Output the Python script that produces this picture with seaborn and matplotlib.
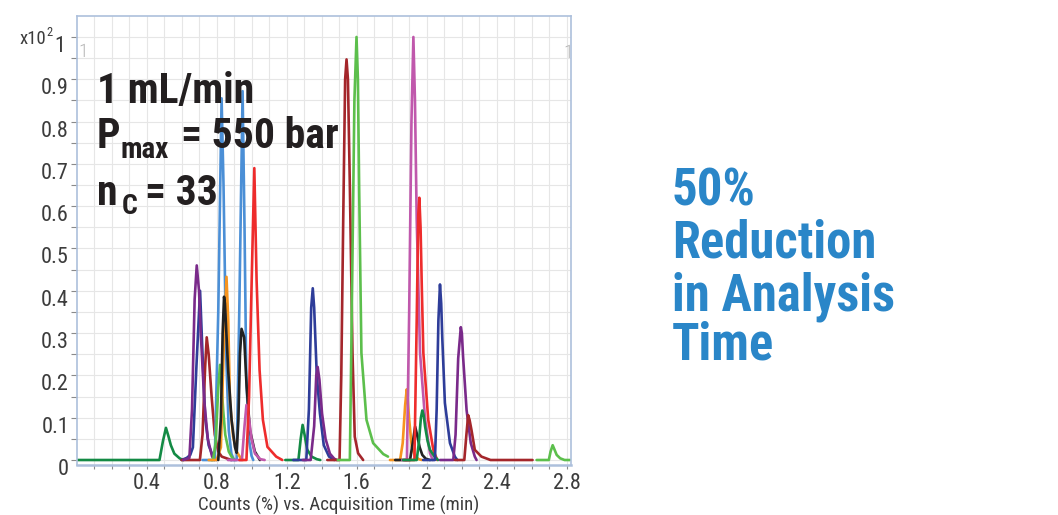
import matplotlib
matplotlib.use("Agg")
import matplotlib.pyplot as plt
from matplotlib import font_manager as fm
from matplotlib.transforms import ScaledTranslation
import numpy as np
import seaborn as sns

# ---------------- data ----------------
DGREEN = "#138a44"
LGREEN = "#5cbf4c"
NAVY = "#2e3d99"
PURPLE = "#7a2a8a"
BROWN = "#a4262b"
LBLUE = "#4b8fd6"
ORANGE = "#f7941e"
BLACK = "#222222"
PINK = "#c058ac"
RED = "#ee2c2c"

# group 1 (0 - 1.2 min)
dg1_t = [0.0, 0.473, 0.493, 0.510, 0.523, 0.538, 0.558, 0.588, 0.608]
dg1_y = [0.0, 0.0, 0.045, 0.076, 0.058, 0.035, 0.015, 0.004, 0.0]
nv1_t = [0.599, 0.629, 0.649, 0.664, 0.684, 0.705, 0.719, 0.734, 0.754, 0.779, 0.799]
nv1_y = [0.0, 0.005, 0.012, 0.03, 0.22, 0.40, 0.25, 0.10, 0.035, 0.008, 0.0]
pu1_t = [0.609, 0.644, 0.659, 0.674, 0.686, 0.699, 0.709, 0.729, 0.749, 0.774, 0.789]
pu1_y = [0.0, 0.005, 0.12, 0.38, 0.46, 0.40, 0.30, 0.14, 0.05, 0.008, 0.0]
br1_t = [0.599, 0.704, 0.719, 0.734, 0.743, 0.754, 0.771, 0.789, 0.809, 0.829, 0.884]
br1_y = [0.0, 0.0, 0.06, 0.22, 0.29, 0.25, 0.15, 0.06, 0.02, 0.008, 0.0]
lbA_t = [0.719, 0.789, 0.809, 0.828, 0.839, 0.854, 0.869, 0.884, 0.899]
lbA_y = [0.0, 0.0, 0.35, 0.855, 0.65, 0.25, 0.07, 0.015, 0.0]
lbB_t = [0.879, 0.914, 0.929, 0.948, 0.959, 0.969, 0.984, 0.999, 1.009]
lbB_y = [0.0, 0.0, 0.35, 0.872, 0.55, 0.20, 0.05, 0.01, 0.0]
lg1_t = [0.769, 0.779, 0.794, 0.809, 0.819, 0.829, 0.837, 0.849, 0.869, 0.889, 0.904]
lg1_y = [0.0, 0.0, 0.04, 0.17, 0.225, 0.17, 0.118, 0.06, 0.02, 0.005, 0.0]
or1_t = [0.754, 0.799, 0.824, 0.839, 0.856, 0.866, 0.876, 0.894, 0.914, 0.939, 0.949]
or1_y = [0.0, 0.0, 0.03, 0.25, 0.433, 0.33, 0.135, 0.055, 0.02, 0.003, 0.0]
bk1_t = [0.809, 0.824, 0.834, 0.842, 0.847, 0.866, 0.885, 0.904, 0.914, 0.924,
         0.933, 0.942, 0.957, 0.971, 0.990, 1.018, 1.047]
bk1_y = [0.0, 0.10, 0.30, 0.386, 0.37, 0.21, 0.095, 0.031, 0.017, 0.095,
         0.25, 0.31, 0.29, 0.173, 0.07, 0.02, 0.0]
pk1_t = [0.864, 0.944, 0.959, 0.970, 0.984, 0.999, 1.019, 1.049, 1.074]
pk1_y = [0.0, 0.0, 0.08, 0.13, 0.10, 0.05, 0.015, 0.002, 0.0]
rd1_t = [0.93, 0.97, 0.985, 1.0, 1.015, 1.028, 1.045, 1.064, 1.09, 1.14, 1.175]
rd1_y = [0.0, 0.0, 0.15, 0.425, 0.69, 0.425, 0.213, 0.095, 0.031, 0.008, 0.0]

# group 2 (1.2 - 1.8 min)
dg2_t = [1.192, 1.267, 1.28, 1.291, 1.302, 1.317, 1.342, 1.372, 1.392]
dg2_y = [0.0, 0.0, 0.05, 0.083, 0.06, 0.025, 0.008, 0.002, 0.0]
nv2_t = [1.237, 1.312, 1.327, 1.34, 1.349, 1.357, 1.372, 1.39, 1.412, 1.442, 1.472]
nv2_y = [0.0, 0.0, 0.12, 0.36, 0.406, 0.36, 0.20, 0.11, 0.035, 0.008, 0.0]
pu2_t = [1.292, 1.337, 1.357, 1.369, 1.377, 1.387, 1.402, 1.422, 1.447, 1.472, 1.487]
pu2_y = [0.0, 0.0, 0.08, 0.20, 0.22, 0.19, 0.11, 0.05, 0.015, 0.003, 0.0]
br2_t = [1.432, 1.502, 1.512, 1.523, 1.534, 1.542, 1.55, 1.561, 1.576, 1.589, 1.608, 1.637]
br2_y = [0.0, 0.0, 0.2, 0.567, 0.9, 0.947, 0.9, 0.646, 0.253, 0.055, 0.016, 0.0]
lg2_t = [1.492, 1.561, 1.572, 1.587, 1.599, 1.607, 1.614, 1.627, 1.656, 1.694, 1.752, 1.779]
lg2_y = [0.0, 0.0, 0.35, 0.85, 1.0, 0.9, 0.646, 0.253, 0.095, 0.04, 0.014, 0.008]

# group 3 (1.8 - 2.8 min)
or2_t = [1.79, 1.848, 1.863, 1.877, 1.886, 1.892, 1.9, 1.915, 1.935, 1.955, 1.972]
or2_y = [0.0, 0.0, 0.04, 0.13, 0.167, 0.14, 0.095, 0.031, 0.008, 0.002, 0.0]
bk2_t = [1.82, 1.905, 1.92, 1.934, 1.945, 1.96, 1.975, 1.995, 2.019]
bk2_y = [0.0, 0.0, 0.04, 0.079, 0.06, 0.03, 0.012, 0.003, 0.0]
pk2_t = [1.86, 1.887, 1.9, 1.913, 1.924, 1.933, 1.943, 1.962, 1.991, 2.019, 2.035]
pk2_y = [0.0, 0.0, 0.35, 0.8, 1.0, 0.85, 0.567, 0.253, 0.095, 0.016, 0.0]
rd2_t = [1.875, 1.93, 1.943, 1.952, 1.958, 1.965, 1.972, 1.981, 2.009, 2.038, 2.06]
rd2_y = [0.0, 0.0, 0.33, 0.58, 0.62, 0.55, 0.41, 0.253, 0.095, 0.024, 0.0]
dg3_t = [1.865, 1.943, 1.955, 1.967, 1.975, 1.983, 1.991, 2.005, 2.019, 2.045, 2.065]
dg3_y = [0.0, 0.0, 0.04, 0.10, 0.117, 0.105, 0.079, 0.045, 0.024, 0.008, 0.0]
nv3_t = [1.979, 2.047, 2.057, 2.067, 2.076, 2.083, 2.089, 2.104, 2.133, 2.161, 2.175]
nv3_y = [0.0, 0.0, 0.12, 0.33, 0.415, 0.37, 0.29, 0.135, 0.04, 0.008, 0.0]
pu3_t = [2.076, 2.152, 2.165, 2.18, 2.195, 2.201, 2.208, 2.228, 2.252, 2.275, 2.285]
pu3_y = [0.0, 0.0, 0.06, 0.24, 0.314, 0.30, 0.244, 0.118, 0.04, 0.008, 0.0]
br3_t = [2.161, 2.215, 2.227, 2.237, 2.245, 2.256, 2.275, 2.313, 2.365, 2.605]
br3_y = [0.0, 0.0, 0.06, 0.106, 0.095, 0.071, 0.024, 0.008, 0.0, 0.0]
lg3_t = [2.628, 2.698, 2.708, 2.72, 2.73, 2.743, 2.763, 2.788, 2.82]
lg3_y = [0.0, 0.0, 0.02, 0.035, 0.025, 0.012, 0.004, 0.0, 0.0]

XTICKS = [0.4, 0.8, 1.2, 1.6, 2.0, 2.4, 2.8]
XTICKLABELS = ["0.4", "0.8", "1.2", "1.6", "2", "2.4", "2.8"]
YTICKS = [0.0, 0.1, 0.2, 0.3, 0.4, 0.5, 0.6, 0.7, 0.8, 0.9, 1.0]
YTICKLABELS = ["0", "0.1", "0.2", "0.3", "0.4", "0.5", "0.6", "0.7", "0.8", "0.9", "1"]
XLABEL = "Counts (%) vs. Acquisition Time (min)"
RIGHT_LINES = ["50%", "Reduction", "in Analysis", "Time"]

traces = [
    (dg1_t, dg1_y, DGREEN), (nv1_t, nv1_y, NAVY), (br1_t, br1_y, BROWN),
    (pu1_t, pu1_y, PURPLE), (lbA_t, lbA_y, LBLUE), (lg1_t, lg1_y, LGREEN),
    (lbB_t, lbB_y, LBLUE), (or1_t, or1_y, ORANGE), (bk1_t, bk1_y, BLACK),
    (pk1_t, pk1_y, PINK), (rd1_t, rd1_y, RED),
    (dg2_t, dg2_y, DGREEN), (nv2_t, nv2_y, NAVY), (pu2_t, pu2_y, PURPLE),
    (br2_t, br2_y, BROWN), (lg2_t, lg2_y, LGREEN),
    (or2_t, or2_y, ORANGE), (bk2_t, bk2_y, BLACK), (pk2_t, pk2_y, PINK),
    (rd2_t, rd2_y, RED), (dg3_t, dg3_y, DGREEN), (nv3_t, nv3_y, NAVY),
    (pu3_t, pu3_y, PURPLE), (br3_t, br3_y, BROWN), (lg3_t, lg3_y, LGREEN),
]

# ---------------- style ----------------
sns.set_theme(style="white")
names = {f.name for f in fm.fontManager.ttflist}
MAIN = "Roboto Condensed" if "Roboto Condensed" in names else "DejaVu Sans"
plt.rcParams["font.family"] = [MAIN, "DejaVu Sans"]

W, H = 1058, 515
fig = plt.figure(figsize=(W / 100, H / 100), dpi=100)
fig.patch.set_facecolor("white")
ax = fig.add_axes([76.7 / W, 1 - 465 / H, (570.7 - 76.7) / W, (465 - 16) / H])

for t, y, c in traces:
    sns.lineplot(x=t, y=y, color=c, lw=1.9, ax=ax, sort=False,
                 estimator=None, legend=False)

ax.set_xlim(0, 2.823)
ax.set_ylim(-0.0118, 1.0496)

ax.set_xticks(XTICKS)
ax.set_xticklabels(XTICKLABELS)
ax.set_xticks(np.arange(0.1, 2.81, 0.1), minor=True)
ax.set_yticks(YTICKS)
ax.set_yticklabels(YTICKLABELS)
ax.set_yticks(np.arange(0.05, 1.0, 0.1), minor=True)

ax.grid(which="both", color="#e6e6e6", lw=0.8)
ax.set_axisbelow(True)
ax.set_facecolor("white")

TICKC = "#3c3c3c"
ax.tick_params(axis="x", which="both", bottom=True, direction="out", length=3,
               width=0.8, color="#8a8a8a", pad=3.0, labelsize=16,
               labelcolor=TICKC)
ax.tick_params(axis="y", which="both", left=True, direction="out", length=4,
               width=0.8, color="#8a8a8a", pad=1.5, labelsize=16,
               labelcolor=TICKC)

for side in ["left", "right", "top", "bottom"]:
    ax.spines[side].set_visible(True)
    ax.spines[side].set_color("#adc0dc")
    ax.spines[side].set_linewidth(1.2)
ax.spines["bottom"].set_linewidth(1.8)

ylabels = ax.get_yticklabels()
for i, lbl in enumerate(ylabels):
    dx = -0.04 if i == len(ylabels) - 1 else 0.0
    lbl.set_transform(lbl.get_transform() +
                      ScaledTranslation(dx, -0.07, fig.dpi_scale_trans))

ax.set_xlabel(XLABEL, fontsize=13.6, color=TICKC)
ax.set_ylabel("")
ax.xaxis.set_label_coords(0.53, -0.069)


def ftext(x, y, s, **kw):
    fig.text(x / W, 1 - y / H, s, va="baseline", ha=kw.pop("ha", "left"), **kw)


# scale multiplier and overlay labels
ftext(20, 44, "x10", fontsize=13.5, color=TICKC)
ftext(46.5, 36, "2", fontsize=9, color=TICKC)
ftext(78, 57, "1", fontsize=14, color="#b4b4b4", fontweight="light")
ftext(573, 58, "1", fontsize=14, color="#b4b4b4", ha="right", fontweight="light")

# bold annotation block
BK = "#231f20"
HW = "bold"
ftext(97, 103.3, "1 mL/min", fontsize=30, fontweight=HW, color=BK)
ftext(97, 148.3, "P", fontsize=30, fontweight=HW, color=BK)
ftext(121, 158, "max", fontsize=21, fontweight=HW, color=BK)
ftext(181, 148.3, "= 550 bar", fontsize=30, fontweight=HW, color=BK)
ftext(97, 205, "n", fontsize=30, fontweight=HW, color=BK)
ftext(122, 214, "C", fontsize=20, fontweight=HW, color=BK)
ftext(145, 205, "= 33", fontsize=30, fontweight=HW, color=BK)

# right-hand statement
BLUE = "#2a86c8"
for s, yb in zip(RIGHT_LINES, [205, 258, 310, 360]):
    ftext(672, yb, s, fontsize=36.5, fontweight=HW, color=BLUE)

fig.savefig("out.png", dpi=100, facecolor="white")
